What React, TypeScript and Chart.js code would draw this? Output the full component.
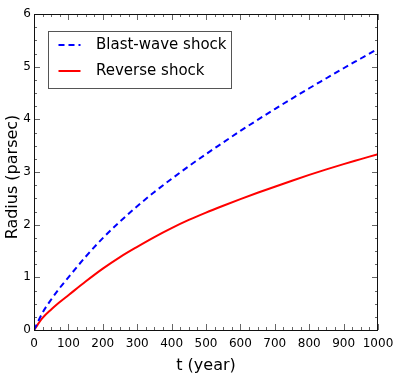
import { useEffect, useRef } from "react";
import { Chart, registerables } from "chart.js";

Chart.register(...registerables);

// time in years
const years = [0, 25, 50, 75, 100, 150, 200, 250, 300, 350, 400, 450, 500, 550, 600, 650, 700, 750, 800, 850, 900, 950, 1000];
// radius in parsec
const blastWave = [0, 0.33, 0.58, 0.8, 1.0, 1.39, 1.745, 2.06, 2.35, 2.62, 2.87, 3.11, 3.34, 3.56, 3.78, 3.99, 4.195, 4.395, 4.59, 4.78, 4.97, 5.155, 5.34];
const reverseShock = [0, 0.23, 0.39, 0.53, 0.66, 0.92, 1.165, 1.385, 1.58, 1.765, 1.935, 2.09, 2.23, 2.36, 2.485, 2.605, 2.72, 2.835, 2.945, 3.05, 3.15, 3.245, 3.34];
const seriesNames = ["Blast-wave shock", "Reverse shock"];
const seriesColors = ["#0000ff", "#ff0000"];
const xTitle = "t (year)";
const yTitle = "Radius (parsec)";

const xMin = 0;
const xMax = 1000;
const xMajorStep = 100;
const xMinorStep = 25;
const yMin = 0;
const yMax = 6;
const yMajorStep = 1;
const yMinorStep = 0.25;

const FONT = "'DejaVu Sans', 'Liberation Sans', sans-serif";
const DASH = [6, 4];

const framePlugin = {
  id: "framePlugin",
  afterDraw(chart: any) {
    const { ctx, chartArea: a, scales } = chart;
    const xs = scales.x;
    const ys = scales.y;
    ctx.save();
    // ticks
    ctx.strokeStyle = "#666";
    ctx.lineWidth = 1;
    ctx.beginPath();
    for (let v = xMin; v <= xMax + 1e-9; v += xMinorStep) {
      const px = Math.round(xs.getPixelForValue(v)) + 0.5;
      const major = Math.abs(v / xMajorStep - Math.round(v / xMajorStep)) < 1e-6;
      const len = major ? 6 : 3;
      ctx.moveTo(px, a.bottom);
      ctx.lineTo(px, a.bottom - len);
      ctx.moveTo(px, a.top);
      ctx.lineTo(px, a.top + len);
    }
    for (let v = yMin; v <= yMax + 1e-9; v += yMinorStep) {
      const py = Math.round(ys.getPixelForValue(v)) + 0.5;
      const major = Math.abs(v / yMajorStep - Math.round(v / yMajorStep)) < 1e-6;
      const len = major ? 6 : 3;
      ctx.moveTo(a.left, py);
      ctx.lineTo(a.left + len, py);
      ctx.moveTo(a.right, py);
      ctx.lineTo(a.right - len, py);
    }
    ctx.stroke();
    // frame
    ctx.strokeStyle = "#111";
    ctx.lineWidth = 1;
    ctx.strokeRect(Math.round(a.left) + 0.5, Math.round(a.top) + 0.5, Math.round(a.width) - 1, Math.round(a.height));

    // y axis title
    ctx.save();
    ctx.translate(12.5, (a.top + a.bottom) / 2 + 5);
    ctx.rotate(-Math.PI / 2);
    ctx.font = `16px ${FONT}`;
    ctx.fillStyle = "#000";
    ctx.textAlign = "center";
    ctx.textBaseline = "middle";
    ctx.fillText(yTitle, 0, 0);
    ctx.restore();

    // legend
    const lx = Math.round(a.left) + 14.5;
    const ly = Math.round(a.top) + 17.5;
    const lw = 183;
    const lh = 57;
    ctx.fillStyle = "#ffffff";
    ctx.fillRect(lx, ly, lw, lh);
    ctx.strokeStyle = "#555";
    ctx.lineWidth = 1;
    ctx.strokeRect(lx, ly, lw, lh);
    ctx.font = `15px ${FONT}`;
    ctx.textBaseline = "middle";
    ctx.textAlign = "left";
    const rows = [ly + 13.5, ly + 39.5];
    seriesNames.forEach((name, i) => {
      const ry = rows[i];
      ctx.strokeStyle = seriesColors[i];
      ctx.lineWidth = 2;
      ctx.setLineDash(i === 0 ? DASH : []);
      ctx.beginPath();
      ctx.moveTo(lx + 10, ry);
      ctx.lineTo(lx + 32, ry);
      ctx.stroke();
      ctx.setLineDash([]);
      ctx.fillStyle = "#000";
      ctx.fillText(name, lx + 47.5, ry);
    });
    ctx.restore();
  },
};

export default function App() {
  const ref = useRef<HTMLCanvasElement | null>(null);
  useEffect(() => {
    document.body.style.margin = "0";
    if (!ref.current) return;
    const toPoints = (vals: number[]) => years.map((t, i) => ({ x: t, y: vals[i] }));
    const chart = new Chart(ref.current, {
      type: "line",
      data: {
        datasets: [
          {
            label: seriesNames[0],
            data: toPoints(blastWave),
            borderColor: seriesColors[0],
            borderWidth: 2,
            borderDash: DASH,
            pointRadius: 0,
            fill: false,
            cubicInterpolationMode: "monotone",
          },
          {
            label: seriesNames[1],
            data: toPoints(reverseShock),
            borderColor: seriesColors[1],
            borderWidth: 2,
            pointRadius: 0,
            fill: false,
            cubicInterpolationMode: "monotone",
          },
        ],
      },
      options: {
        animation: false,
        responsive: false,
        layout: { padding: { top: 14, right: 20, left: 0, bottom: 0 } },
        plugins: { legend: { display: false }, tooltip: { enabled: false } },
        scales: {
          x: {
            type: "linear",
            min: xMin,
            max: xMax,
            grid: { display: false, drawTicks: false },
            border: { display: false },
            ticks: {
              stepSize: xMajorStep,
              autoSkip: false,
              padding: 7,
              color: "#000",
              maxRotation: 0,
              font: { family: FONT, size: 12 },
              callback: (v: any) => String(v),
            },
            title: { display: true, text: xTitle, color: "#000", font: { family: FONT, size: 16 }, padding: { top: 0, bottom: 6 } },
            afterFit(scale: any) {
              scale.height = 51;
              scale.paddingLeft = 0;
              scale.paddingRight = 0;
            },
          },
          y: {
            type: "linear",
            min: yMin,
            max: yMax,
            grid: { display: false, drawTicks: false },
            border: { display: false },
            ticks: { stepSize: yMajorStep, autoSkip: false, padding: 3, color: "#000", font: { family: FONT, size: 12 }, callback: (v: any) => String(v) },
            title: { display: false, text: yTitle },
            afterFit(scale: any) {
              scale.width = 34;
              scale.paddingTop = 0;
              scale.paddingBottom = 0;
            },
          },
        },
      },
      plugins: [framePlugin],
    });
    return () => chart.destroy();
  }, []);
  return <canvas ref={ref} width={398} height={381} style={{ display: "block" }} />;
}
